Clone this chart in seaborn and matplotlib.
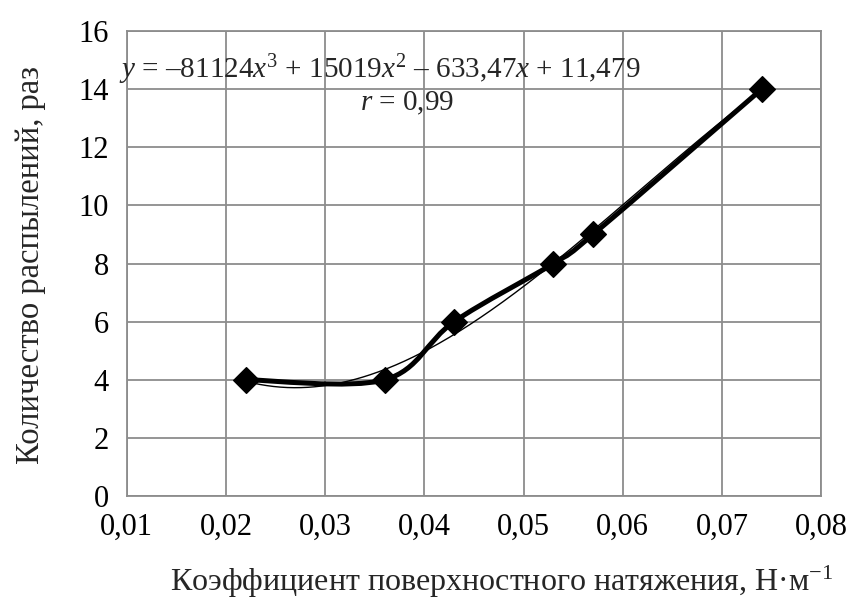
import numpy as np
import pandas as pd
import seaborn as sns
import matplotlib
matplotlib.use("Agg")
import matplotlib.pyplot as plt
from matplotlib.path import Path
from matplotlib.patches import PathPatch
from matplotlib.ticker import FuncFormatter

# Measured data
surface_tension = [0.022, 0.036, 0.043, 0.053, 0.057, 0.074]
spray_count = [4, 4, 6, 8, 9, 14]

# Cubic trend coefficients (highest power first) and correlation
trend_coef = [-81124, 15019, -633.47, 11.479]
r_value = 0.99

x_ticks = [0.01, 0.02, 0.03, 0.04, 0.05, 0.06, 0.07, 0.08]
y_ticks = [0, 2, 4, 6, 8, 10, 12, 14, 16]

sns.set_style("white")
plt.rcParams['font.family'] = ['Liberation Serif', 'DejaVu Serif']
plt.rcParams['mathtext.fontset'] = 'custom'
plt.rcParams['mathtext.rm'] = 'Liberation Serif'
plt.rcParams['mathtext.it'] = 'Liberation Serif:italic'

grid_c = '#8c8c8c'

fig = plt.figure(figsize=(8.51, 6.03), dpi=100)
ax = fig.add_axes([0.149, 0.1774, 0.816, 0.7712])

df = pd.DataFrame({'x': surface_tension, 'y': spray_count})

# Smoothed connecting line (cubic Bezier through the points)
xs = np.array(surface_tension, float)
ys = np.array(spray_count, float)
verts = [(xs[0], ys[0])]
codes = [Path.MOVETO]
n = len(xs)
for i in range(n - 1):
    p0 = np.array([xs[max(i - 1, 0)], ys[max(i - 1, 0)]])
    p1 = np.array([xs[i], ys[i]])
    p2 = np.array([xs[i + 1], ys[i + 1]])
    p3 = np.array([xs[min(i + 2, n - 1)], ys[min(i + 2, n - 1)]])
    c1 = p1 + (p2 - p0) / 6.0
    c2 = p2 - (p3 - p1) / 6.0
    verts += [tuple(c1), tuple(c2), tuple(p2)]
    codes += [Path.CURVE4] * 3
ax.add_patch(PathPatch(Path(verts, codes), facecolor='none', edgecolor='black',
                       lw=3.6, capstyle='round', joinstyle='round', zorder=3))

# Trend line from the stated polynomial
tx = np.linspace(min(surface_tension), max(surface_tension), 300)
ty = np.polyval(trend_coef, tx)
sns.lineplot(x=tx, y=ty, ax=ax, color='black', lw=1.0, zorder=4, sort=False)

# Markers
sns.scatterplot(data=df, x='x', y='y', ax=ax, marker='D', s=170, color='black',
                edgecolor='black', zorder=5)

ax.set_xlim(0.01, 0.08)
ax.set_ylim(0, 16)
ax.set_xticks(x_ticks)
ax.set_yticks(y_ticks)
ax.xaxis.set_major_formatter(FuncFormatter(lambda v, p: f"{v:.2f}".replace('.', ',')))
ax.yaxis.set_major_formatter(FuncFormatter(lambda v, p: f"{int(round(v))}"))
ax.grid(True, color=grid_c, lw=1.3)
ax.set_axisbelow(True)
for s in ax.spines.values():
    s.set_color(grid_c)
    s.set_linewidth(1.3)
ax.tick_params(axis='both', colors=grid_c, labelcolor='black', labelsize=22,
               length=7, width=1.3, direction='out')
ax.tick_params(axis='x', pad=5)
ax.tick_params(axis='y', pad=6)
ax.set_xlabel("")
ax.set_ylabel("")

fig.text(0.589, 0.035, "Коэффициент поверхностного натяжения, Н·м$^{\\mathrm{-1}}$",
         fontsize=23, ha='center', va='center')
fig.text(0.036, 0.56, "Количество распылений, раз", fontsize=23.5,
         ha='center', va='center', rotation=90)

eq = (r"$y$ = –81124$x^3$ + 15019$x^2$ – " + "633,47" + r"$x$" + " + 11,479")
ax.text(0.0355, 14.66, eq, fontsize=21, ha='center', va='center', zorder=6)
ax.text(0.0383, 13.52, r"$r$ = " + f"{r_value:.2f}".replace('.', ','), fontsize=21,
        ha='center', va='center', zorder=6)

fig.savefig("out.png", dpi=100)
